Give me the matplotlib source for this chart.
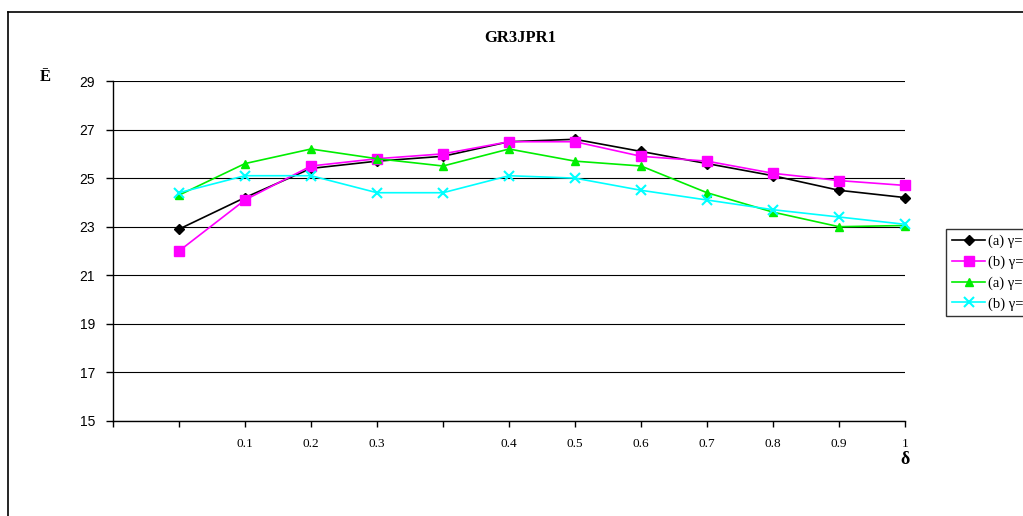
import matplotlib
matplotlib.use("Agg")
import matplotlib.pyplot as plt
from matplotlib.lines import Line2D

# Category axis: 13 slots, data on slots 1..12
tick_labels = ["", "", "0.1", "0.2", "0.3", "", "0.4", "0.5", "0.6", "0.7", "0.8", "0.9", "1"]
positions = list(range(1, 13))

a_gamma2 = [22.9, 24.2, 25.4, 25.7, 25.9, 26.5, 26.6, 26.1, 25.6, 25.1, 24.5, 24.2]
b_gamma2 = [22.0, 24.1, 25.5, 25.8, 26.0, 26.5, 26.5, 25.9, 25.7, 25.2, 24.9, 24.7]
a_gamma5 = [24.3, 25.6, 26.2, 25.8, 25.5, 26.2, 25.7, 25.5, 24.4, 23.6, 23.0, 23.05]
b_gamma5 = [24.4, 25.1, 25.1, 24.4, 24.4, 25.1, 25.0, 24.5, 24.1, 23.7, 23.4, 23.1]

series_labels = ["(a) γ=2", "(b) γ=2", "(a) γ=5", "(b) γ=5"]

W, H = 1023, 516
fig = plt.figure(figsize=(W / 100, H / 100), dpi=100)
ax = fig.add_axes([113 / W, (H - 421) / H, (905 - 113) / W, (421 - 81) / H])

ax.plot(positions, a_gamma2, color="black", lw=1.2, marker="D", ms=5.5,
        label=series_labels[0], clip_on=False)
ax.plot(positions, b_gamma2, color="#FF00FF", lw=1.2, marker="s", ms=7,
        label=series_labels[1], clip_on=False)
ax.plot(positions, a_gamma5, color="#00EE00", lw=1.2, marker="^", ms=5.5,
        label=series_labels[2], clip_on=False)
ax.plot(positions, b_gamma5, color="#00FFFF", lw=1.2, marker="x", ms=7, mew=1.5,
        label=series_labels[3], clip_on=False)

ax.set_xlim(0, 12)
ax.set_ylim(15, 29)
ax.set_yticks(range(15, 30, 2))
ax.set_xticks(range(0, 13))
ax.set_xticklabels(tick_labels, fontfamily="Liberation Serif", fontsize=9.5)
for lbl in ax.get_yticklabels():
    lbl.set_fontfamily("Liberation Sans")
    lbl.set_fontsize(10)

ax.yaxis.grid(True, color="black", lw=0.8)
ax.set_axisbelow(True)
for s in ("top", "right"):
    ax.spines[s].set_visible(False)
for s in ("left", "bottom"):
    ax.spines[s].set_color("black")
    ax.spines[s].set_linewidth(1.0)
ax.tick_params(axis="y", direction="out", length=5, width=1, pad=8)
ax.tick_params(axis="x", direction="out", length=4, width=1, pad=8)

fig.text(520 / W, 1 - 38 / H, "GR3JPR1", ha="center", va="center",
         fontfamily="Liberation Serif", fontweight="bold", fontsize=12)
fig.text(45 / W, 1 - 77 / H, "Ē", ha="center", va="center",
         fontfamily="Liberation Serif", fontweight="bold", fontsize=12)
fig.text(905 / W, 1 - 460 / H, "δ", ha="center", va="center",
         fontfamily="Liberation Serif", fontweight="bold", fontsize=13)

# Chart frame
fig.add_artist(Line2D([8 / W, 1.0], [1 - 12 / H, 1 - 12 / H], color="black", lw=1.2,
                      transform=fig.transFigure))
fig.add_artist(Line2D([8 / W, 8 / W], [0, 1 - 12 / H], color="black", lw=1.2,
                      transform=fig.transFigure))

leg = ax.legend(loc="upper left", bbox_to_anchor=(946 / W, 1 - 229 / H),
                bbox_transform=fig.transFigure, frameon=True, fancybox=False,
                edgecolor="black", prop={"family": "Liberation Serif", "size": 10.5},
                handlelength=2.3, handletextpad=0.2, borderpad=0.4,
                labelspacing=0.5, borderaxespad=0)
leg.get_frame().set_linewidth(1.0)

fig.savefig("out.png", dpi=100)
